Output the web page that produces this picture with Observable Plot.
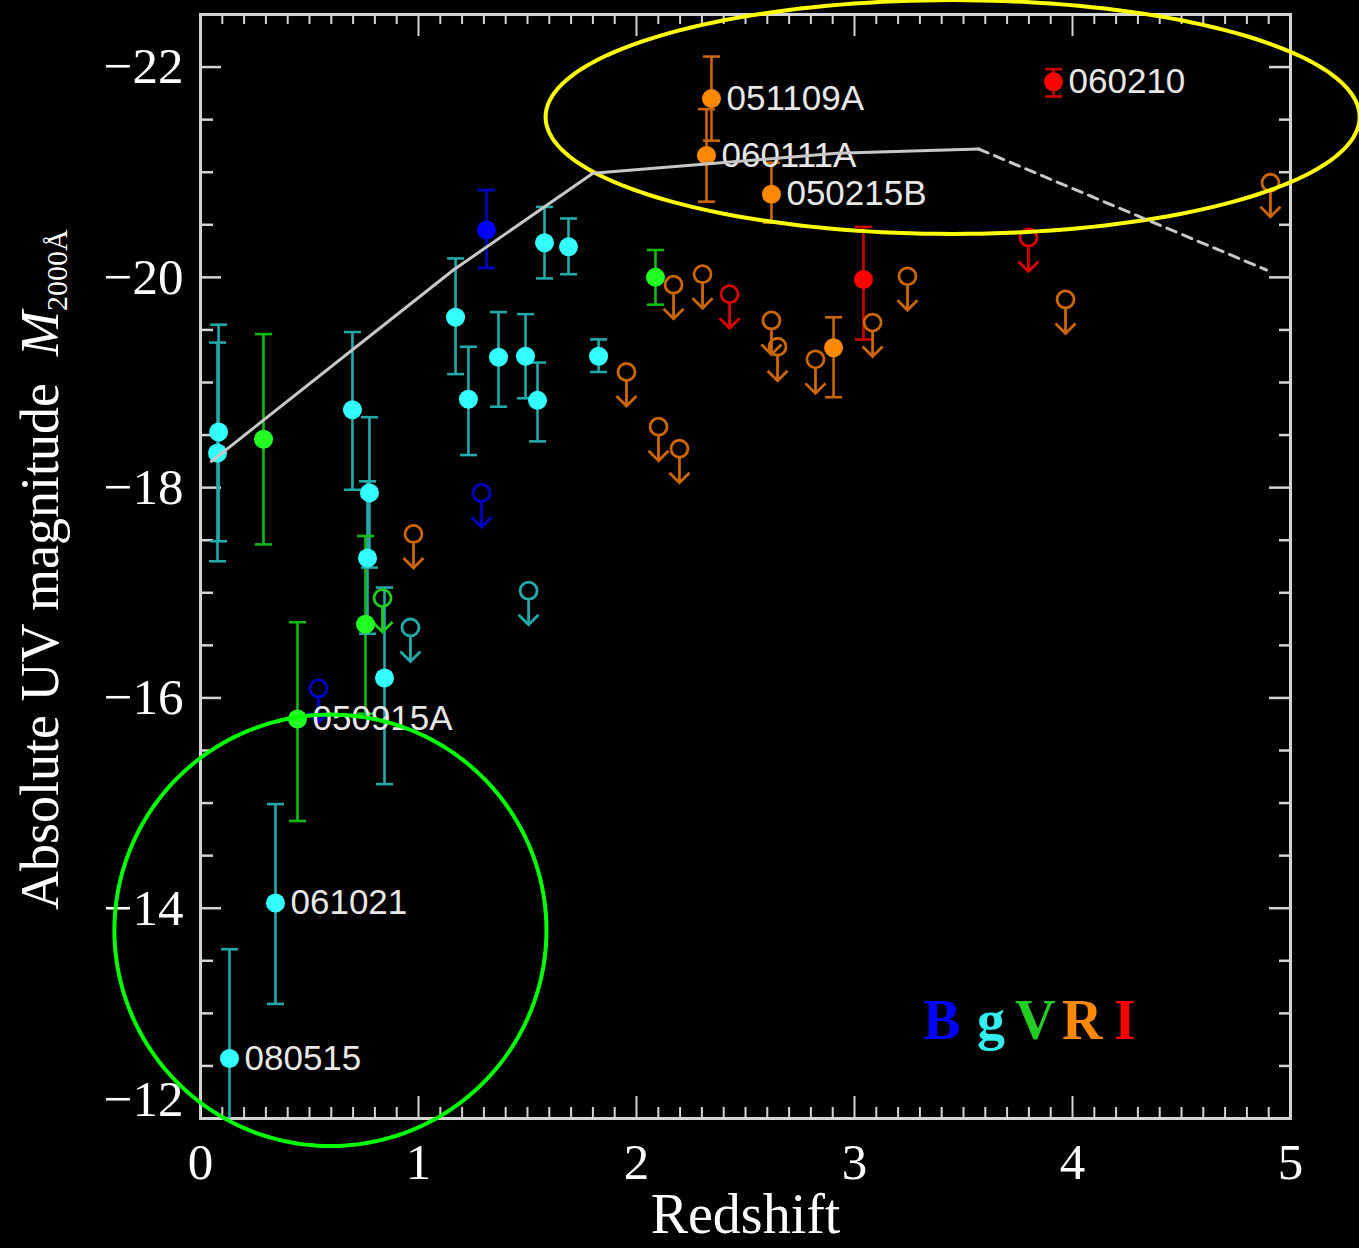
<!DOCTYPE html>
<html><head><meta charset="utf-8">
<script src="https://cdn.jsdelivr.net/npm/d3@7"></script>
<script src="https://cdn.jsdelivr.net/npm/@observablehq/plot@0.6"></script>
<style>
html,body{margin:0;padding:0;background:#000;overflow:hidden;}
#chart svg{display:block;}
</style></head><body><div id="chart"></div>
<script>
// ---- Detections (filled points with error bars) ----
const detZ      = [0.083, 0.078, 0.289, 0.133, 0.344, 0.445, 0.697, 0.775, 0.766, 0.757, 0.844, 1.170, 1.229, 1.312, 1.367, 1.491, 1.546, 1.578, 1.688, 1.826, 2.087, 2.321, 2.344, 2.619, 2.904, 3.041, 3.913];
const detM      = [-18.53, -18.33, -18.46, -12.57, -14.05, -15.80, -18.74, -17.95, -17.33, -16.70, -16.19, -19.62, -18.84, -20.45, -19.24, -19.25, -18.83, -20.33, -20.29, -19.25, -20.00, -21.16, -21.70, -20.79, -19.33, -19.98, -21.86];
const detBright = [-19.55, -19.38, -19.46, -13.61, -14.99, -16.72, -19.48, -18.67, -18.06, -17.54, -17.05, -20.18, -19.34, -20.83, -19.67, -19.65, -19.19, -20.67, -20.56, -19.41, -20.26, -21.60, -22.10, -21.09, -19.62, -20.48, -21.98];
const detFaint  = [-17.49, -17.30, -17.46, -11.53, -13.09, -14.83, -17.98, -17.24, -16.61, -15.85, -15.18, -19.08, -18.31, -20.09, -18.77, -18.85, -18.44, -19.99, -20.03, -19.10, -19.74, -20.72, -21.30, -20.52, -18.86, -19.41, -21.72];
const detBand   = ["g","g","V","g","g","V","g","g","g","V","g","g","g","B","g","g","g","g","g","g","V","R","R","R","R","I","I"];
const detLabel  = ["","","","080515","061021","050915A","","","","","","","","","","","","","","","","060111A","051109A","050215B","","","060210"];

// ---- Upper limits (open circles with arrows) ----
const limZ    = [0.541, 0.835, 0.963, 0.977, 1.289, 1.505, 1.954, 2.101, 2.170, 2.197, 2.303, 2.427, 2.619, 2.647, 2.821, 3.083, 3.243, 3.798, 3.968, 4.908];
const limM    = [-16.09, -16.95, -16.67, -17.56, -17.95, -17.02, -19.10, -18.58, -19.93, -18.37, -20.03, -19.84, -19.59, -19.34, -19.22, -19.57, -20.01, -20.38, -19.79, -20.90];
const limBand = ["B","V","g","R","B","g","R","R","R","R","R","I","R","R","R","R","R","I","R","R"];

// ---- Model curve ----
const curveZ = [0.05, 1.16, 1.80, 2.92, 3.57];
const curveM = [-18.25, -20.07, -20.99, -21.18, -21.22];
const dashZ  = [3.57, 4.89];
const dashM  = [-21.22, -20.07];

// ---- Highlight ellipses (center z, center M, radius z, radius M) ----
const yellowEllipse = [3.45, -21.525, 1.867, 1.112];
const greenEllipse  = [0.596, -13.79, 0.991, 2.052];

// ---- Axes ----
const xMajorTicks = [0, 1, 2, 3, 4, 5];
const xTickLabels = ["0", "1", "2", "3", "4", "5"];
const yMajorTicks = [-22, -20, -18, -16, -14, -12];
const yTickLabels = ["−22", "−20", "−18", "−16", "−14", "−12"];
const xMinorTicks = d3.range(1, 50).map(i => i / 10).filter(v => Math.abs(v - Math.round(v)) > 1e-9);
const yMinorTicks = d3.range(-22.5, -12, 0.5).filter(v => v % 2 !== 0 && v > -22.5);

// ---- Legend ----
const legendLetters = ["B", "g", "V", "R", "I"];
const legendColors  = ["#0000ff", "#33eeee", "#22cc22", "#ff8800", "#ff0000"];

// ---- Band colours ----
const pointColor = {B: "#0000ff", g: "#33ffff", V: "#22ff22", R: "#ff8800", I: "#ff0000"};
const barColor   = {B: "#0000cc", g: "#22aaaa", V: "#11bb11", R: "#cc6600", I: "#cc0000"};
const limColor   = {B: "#0000cc", g: "#22aaaa", V: "#22cc22", R: "#cc6600", I: "#dd0000"};

const dets = detZ.map((z, i) => ({z, m: detM[i], lo: detBright[i], hi: detFaint[i], band: detBand[i], label: detLabel[i]}));
const lims = limZ.map((z, i) => ({z, m: limM[i], band: limBand[i]}));
const curve = curveZ.map((z, i) => ({z, m: curveM[i]}));
const dash = dashZ.map((z, i) => ({z, m: dashM[i]}));
function ellipse([cz, cm, rz, rm]) {
  return d3.range(0, 361, 2).map(a => ({z: cz + rz * Math.cos(a * Math.PI / 180), m: cm + rm * Math.sin(a * Math.PI / 180)}));
}

const W = 1359, H = 1248, mL = 200, mR = 69, mT = 14, mB = 130;
const frameW = W - mL - mR, frameH = H - mT - mB;
const axisColor = "#d4d4d4";
const serif = "Liberation Serif, Times New Roman, serif";
const sans = "Liberation Sans, Arial, sans-serif";

const capSymbol = {draw(ctx, size) { const w = Math.sqrt(size / Math.PI); ctx.moveTo(-w, 0); ctx.lineTo(w, 0); }};
const limitSymbol = {draw(ctx, size) {
  const r = Math.sqrt(size / Math.PI);
  ctx.moveTo(r, 0); ctx.arc(0, 0, r, 0, 2 * Math.PI);
  ctx.moveTo(0, r); ctx.lineTo(0, 34);
  ctx.moveTo(-10, 24); ctx.lineTo(0, 34); ctx.lineTo(10, 24);
}};

const plot = Plot.plot({
  width: W, height: H,
  marginLeft: mL, marginRight: mR, marginTop: mT, marginBottom: mB,
  style: {background: "black", color: "white", overflow: "visible"},
  x: {domain: [0, 5], axis: null},
  y: {domain: [-12, -22.5], axis: null},
  marks: [
    // ticks
    Plot.tickX(xMajorTicks, {x: d => d, insetTop: frameH - 22, stroke: axisColor, strokeWidth: 2}),
    Plot.tickX(xMajorTicks, {x: d => d, insetBottom: frameH - 22, stroke: axisColor, strokeWidth: 2}),
    Plot.tickX(xMinorTicks, {x: d => d, insetTop: frameH - 11, stroke: axisColor, strokeWidth: 2}),
    Plot.tickX(xMinorTicks, {x: d => d, insetBottom: frameH - 10, stroke: axisColor, strokeWidth: 2}),
    Plot.tickY(yMajorTicks, {y: d => d, insetRight: frameW - 21, stroke: axisColor, strokeWidth: 2.5}),
    Plot.tickY(yMajorTicks, {y: d => d, insetLeft: frameW - 21, stroke: axisColor, strokeWidth: 2.5}),
    Plot.tickY(yMinorTicks, {y: d => d, insetRight: frameW - 13, stroke: axisColor, strokeWidth: 2.5}),
    Plot.tickY(yMinorTicks, {y: d => d, insetLeft: frameW - 11, stroke: axisColor, strokeWidth: 2.5}),
    Plot.frame({stroke: axisColor, strokeWidth: 3}),
    // tick labels
    Plot.text(xMajorTicks, {x: d => d, frameAnchor: "bottom", dy: 60, text: (d, i) => xTickLabels[i], fill: "white", fontSize: 51, fontFamily: serif}),
    Plot.text(yMajorTicks.slice(0, 5), {y: d => d, frameAnchor: "left", dx: -17, text: (d, i) => yTickLabels[i], textAnchor: "end", fill: "white", fontSize: 51, fontFamily: serif}),
    Plot.text(yMajorTicks.slice(5), {y: d => d, frameAnchor: "left", dx: -17, dy: -19, text: (d, i) => yTickLabels[5 + i], textAnchor: "end", fill: "white", fontSize: 51, fontFamily: serif}),
    Plot.text(["Redshift"], {frameAnchor: "bottom", dy: 114, text: d => d, fill: "white", fontSize: 56, fontFamily: serif}),
    // error bars
    Plot.ruleX(dets, {x: "z", y1: "lo", y2: "hi", stroke: d => barColor[d.band], strokeWidth: 2.6, clip: true}),
    Plot.dot(dets, {x: "z", y: "lo", symbol: capSymbol, r: 8.5, stroke: d => barColor[d.band], fill: "none", strokeWidth: 2.6}),
    Plot.dot(dets, {x: "z", y: "hi", symbol: capSymbol, r: 8.5, stroke: d => barColor[d.band], fill: "none", strokeWidth: 2.6, clip: true}),
    // upper limits
    Plot.dot(lims, {x: "z", y: "m", symbol: limitSymbol, r: 8.5, stroke: d => limColor[d.band], fill: "none", strokeWidth: 2.8}),
    // detections
    Plot.dot(dets, {x: "z", y: "m", r: 9.5, fill: d => pointColor[d.band], stroke: "none"}),
    // labels
    Plot.text(dets.filter(d => d.label), {x: "z", y: "m", text: "label", dx: 15, textAnchor: "start", fill: "#e8e8e8", fontSize: 35, fontFamily: sans}),
    // highlight ellipses
    Plot.line(ellipse(yellowEllipse), {x: "z", y: "m", stroke: "#ffff00", strokeWidth: 4}),
    Plot.line(ellipse(greenEllipse), {x: "z", y: "m", stroke: "#00ff00", strokeWidth: 4}),
    // model curve
    Plot.line(curve, {x: "z", y: "m", stroke: "#c8c8c8", strokeWidth: 3}),
    Plot.line(dash, {x: "z", y: "m", stroke: "#c8c8c8", strokeWidth: 3, strokeDasharray: "10,7"})
  ]
});

const svg = d3.select(plot);
const t = svg.append("text")
  .attr("transform", "translate(58,910) rotate(-90)")
  .attr("text-anchor", "start")
  .attr("fill", "white").attr("font-family", serif).attr("font-size", 54)
  .style("white-space", "pre");
t.append("tspan").text("Absolute UV magnitude  ");
t.append("tspan").attr("font-style", "italic").text("M");
t.append("tspan").attr("font-size", 30).attr("dy", 9).text("2000Å");

const legendX = [923, 977, 1015, 1062, 1114];
const lg = svg.append("text").attr("y", 1039).attr("text-anchor", "start")
  .attr("font-family", serif).attr("font-weight", "bold").attr("font-size", 56);
legendLetters.forEach((s, i) => lg.append("tspan").attr("x", legendX[i]).attr("fill", legendColors[i]).text(s));

document.getElementById("chart").appendChild(plot);
</script></body></html>
